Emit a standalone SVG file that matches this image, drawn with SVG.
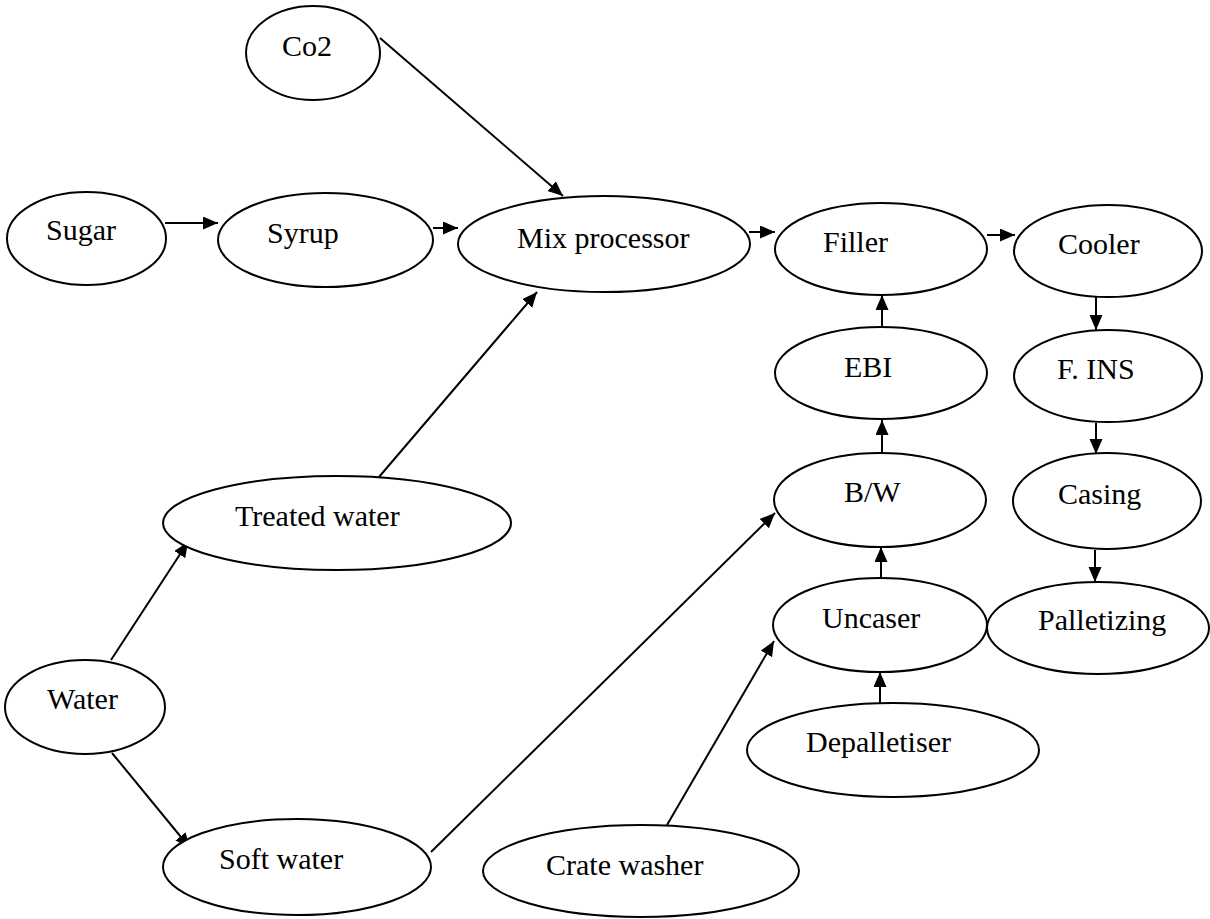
<svg xmlns="http://www.w3.org/2000/svg" width="1210" height="919" viewBox="0 0 1210 919">
<style>
.n ellipse{fill:#fff;stroke:#000;stroke-width:2}
.n text{font-family:"Liberation Serif","Times New Roman",serif;font-size:30px;fill:#000}
.c line{stroke:#000;stroke-width:2;fill:none}
</style>
<defs>
<marker id="ah" markerUnits="userSpaceOnUse" markerWidth="16" markerHeight="14" refX="15" refY="6.5" orient="auto">
<path d="M0,0 L15,6.5 L0,13 z" fill="#000"/>
</marker>
</defs>
<rect width="1210" height="919" fill="#fff"/>
<g class="c" id="connectors">
<line x1="380" y1="38" x2="563" y2="196" marker-end="url(#ah)"/>
<line x1="165" y1="223" x2="218" y2="223" marker-end="url(#ah)"/>
<line x1="433" y1="228" x2="458" y2="228" marker-end="url(#ah)"/>
<line x1="749" y1="232" x2="775" y2="232" marker-end="url(#ah)"/>
<line x1="987" y1="235" x2="1015" y2="235" marker-end="url(#ah)"/>
<line x1="1096" y1="297" x2="1096" y2="330" marker-end="url(#ah)"/>
<line x1="1096" y1="423" x2="1096" y2="454" marker-end="url(#ah)"/>
<line x1="1095" y1="550" x2="1095" y2="582" marker-end="url(#ah)"/>
<line x1="882" y1="327" x2="882" y2="295" marker-end="url(#ah)"/>
<line x1="882" y1="453" x2="882" y2="420" marker-end="url(#ah)"/>
<line x1="881" y1="578" x2="881" y2="547" marker-end="url(#ah)"/>
<line x1="880" y1="703" x2="880" y2="672" marker-end="url(#ah)"/>
<line x1="379" y1="477" x2="537" y2="292" marker-end="url(#ah)"/>
<line x1="111" y1="660" x2="188" y2="542" marker-end="url(#ah)"/>
<line x1="112" y1="753" x2="190" y2="848" marker-end="url(#ah)"/>
<line x1="431" y1="852" x2="775" y2="513" marker-end="url(#ah)"/>
<line x1="667" y1="825" x2="774" y2="641" marker-end="url(#ah)"/>
</g>
<g class="n" id="co2"><ellipse cx="313" cy="53" rx="67" ry="47"/><text x="282" y="56">Co2</text></g>
<g class="n" id="sugar"><ellipse cx="86.5" cy="238.5" rx="79.5" ry="46.5"/><text x="46" y="240">Sugar</text></g>
<g class="n" id="syrup"><ellipse cx="325.5" cy="240" rx="107.5" ry="47"/><text x="267" y="243">Syrup</text></g>
<g class="n" id="mix"><ellipse cx="604" cy="244" rx="146" ry="48"/><text x="517" y="248">Mix processor</text></g>
<g class="n" id="filler"><ellipse cx="881" cy="249" rx="106" ry="46"/><text x="823" y="252">Filler</text></g>
<g class="n" id="cooler"><ellipse cx="1108" cy="251" rx="94" ry="46"/><text x="1058" y="254">Cooler</text></g>
<g class="n" id="ebi"><ellipse cx="881" cy="373" rx="106" ry="46"/><text x="844" y="377">EBI</text></g>
<g class="n" id="fins"><ellipse cx="1108" cy="376" rx="94" ry="46"/><text x="1057" y="379">F. INS</text></g>
<g class="n" id="bw"><ellipse cx="880" cy="500" rx="106" ry="47"/><text x="844" y="502">B/W</text></g>
<g class="n" id="casing"><ellipse cx="1107" cy="501" rx="94" ry="48"/><text x="1058" y="504">Casing</text></g>
<g class="n" id="uncaser"><ellipse cx="880" cy="625" rx="107" ry="47"/><text x="822" y="628">Uncaser</text></g>
<g class="n" id="palletizing"><ellipse cx="1098" cy="628" rx="111" ry="46"/><text x="1038" y="630">Palletizing</text></g>
<g class="n" id="depalletiser"><ellipse cx="893" cy="750" rx="146" ry="47"/><text x="806" y="752">Depalletiser</text></g>
<g class="n" id="treated"><ellipse cx="337" cy="523" rx="174" ry="47"/><text x="235" y="526">Treated water</text></g>
<g class="n" id="water"><ellipse cx="85" cy="707" rx="80" ry="47"/><text x="47" y="709">Water</text></g>
<g class="n" id="soft"><ellipse cx="297" cy="867" rx="134" ry="48"/><text x="219" y="869">Soft water</text></g>
<g class="n" id="crate"><ellipse cx="641" cy="871" rx="158" ry="46"/><text x="546" y="875">Crate washer</text></g>
</svg>
